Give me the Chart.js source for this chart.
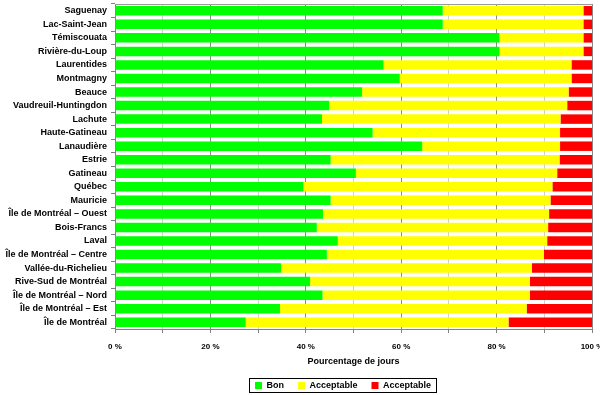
<!DOCTYPE html>
<html>
<head>
<meta charset="utf-8">
<script src="https://cdn.jsdelivr.net/npm/chart.js@4.4.1/dist/chart.umd.min.js"></script>
<style>
  html, body { margin: 0; padding: 0; background: #fff; }
  #wrap { width: 600px; height: 395px; position: relative; }
</style>
</head>
<body>
<div id="wrap"><canvas id="airChart"></canvas></div>
<script>
// ===== DATA =====
const regions = [
  "Saguenay", "Lac-Saint-Jean", "Témiscouata", "Rivière-du-Loup", "Laurentides",
  "Montmagny", "Beauce", "Vaudreuil-Huntingdon", "Lachute", "Haute-Gatineau",
  "Lanaudière", "Estrie", "Gatineau", "Québec", "Mauricie",
  "Île de Montréal – Ouest", "Bois-Francs", "Laval", "Île de Montréal – Centre",
  "Vallée-du-Richelieu", "Rive-Sud de Montréal", "Île de Montréal – Nord",
  "Île de Montréal – Est", "Île de Montréal"
];

// % de jours par catégorie
const bon = [68.7, 68.7, 80.6, 80.6, 56.3, 59.7, 51.8, 44.9, 43.4, 54.0,
             64.4, 45.2, 50.5, 39.5, 45.2, 43.6, 42.3, 46.7, 44.4,
             34.8, 40.9, 43.5, 34.6, 27.4];
const acceptable = [29.5, 29.5, 17.6, 17.6, 39.4, 36.0, 43.3, 49.9, 50.0, 39.3,
                    28.9, 48.0, 42.2, 52.2, 46.1, 47.4, 48.5, 43.9, 45.5,
                    52.6, 46.1, 43.5, 51.7, 55.1];
const mauvais = [1.8, 1.8, 1.8, 1.8, 4.3, 4.3, 4.9, 5.2, 6.6, 6.7,
                 6.7, 6.8, 7.3, 8.3, 8.7, 9.0, 9.2, 9.4, 10.1,
                 12.6, 13.0, 13.0, 13.7, 17.5];

const xTicks = [0, 10, 20, 30, 40, 50, 60, 70, 80, 90, 100];

// ===== PLUGIN: cadre haut + legende deplacee et encadree =====
const frames = {
  id: "frames",
  afterLayout(chart) {
    const lg = chart.legend;
    if (!lg) return;
    const dx = 47;
    const dy = 367 - lg.top;
    lg.left += dx; lg.right += dx;
    lg.top += dy; lg.bottom += dy;
  },
  afterDraw(chart) {
    const c = chart.ctx;
    const a = chart.chartArea;
    c.save();
    c.strokeStyle = "#9a9a9a";
    c.lineWidth = 1;
    c.beginPath();
    c.moveTo(a.left, a.top + 0.5);
    c.lineTo(a.right, a.top + 0.5);
    c.stroke();

    const boxes = chart.legend.legendHitBoxes;
    if (boxes && boxes.length) {
      const l = Math.min(...boxes.map(b => b.left)) - 6;
      const r = Math.max(...boxes.map(b => b.left + b.width)) + 5;
      const t = boxes[0].top - 3;
      const h = boxes[0].height + 5;
      c.strokeStyle = "#000";
      c.strokeRect(Math.round(l) + 0.5, Math.round(t) + 0.5, Math.round(r - l), Math.round(h));
    }
    c.restore();
  }
};

// ===== CHART =====
const ctx = document.getElementById("airChart").getContext("2d");

new Chart(ctx, {
  type: "bar",
  data: {
    labels: regions,
    datasets: [
      { label: "Bon", data: bon, backgroundColor: "#00ff00" },
      { label: "Acceptable", data: acceptable, backgroundColor: "#ffff00" },
      { label: "Acceptable", data: mauvais, backgroundColor: "#ff0000" }
    ]
  },
  options: {
    indexAxis: "y",
    responsive: true,
    maintainAspectRatio: false,
    animation: false,
    datasets: { bar: { categoryPercentage: 1, barPercentage: 0.7, borderWidth: 0 } },
    layout: { padding: { top: 4, right: 8, left: 0, bottom: -7 } },
    plugins: {
      tooltip: { enabled: false },
      legend: {
        position: "bottom",
        labels: {
          boxWidth: 7, boxHeight: 7, padding: 14, color: "#000",
          font: { family: "Liberation Sans, Arial", size: 9, weight: "bold" }
        }
      }
    },
    scales: {
      x: {
        stacked: true,
        min: 0, max: 100,
        afterBuildTicks(axis) { axis.ticks = xTicks.map(v => ({ value: v })); },
        afterFit(axis) { axis.height = 40; axis.paddingRight = 0; },
        ticks: {
          autoSkip: false, maxRotation: 0, padding: 9, color: "#000",
          font: { family: "Liberation Sans, Arial", size: 8, weight: "bold" },
          callback: v => (v % 20 === 0 ? v + " %" : "")
        },
        grid: {
          color: c => (c.tick && c.tick.value % 20 === 0 ? "#8a8a8a" : "#cfcfcf"),
          tickColor: "#808080",
          tickLength: 4
        },
        border: { color: "#808080" },
        title: {
          display: true, text: "Pourcentage de jours", color: "#000",
          padding: { top: 2, bottom: 2 },
          font: { family: "Liberation Sans, Arial", size: 9, weight: "bold" }
        }
      },
      y: {
        stacked: true,
        afterFit(axis) { axis.width = 115; axis.paddingTop = 0; axis.paddingBottom = 0; },
        ticks: {
          color: "#000", padding: 4, autoSkip: false,
          font: { family: "Liberation Sans, Arial", size: 9, weight: "bold" }
        },
        grid: {
          offset: true, drawOnChartArea: false,
          tickLength: 4, tickColor: "#808080"
        },
        border: { color: "#808080" }
      }
    }
  },
  plugins: [frames]
});
</script>
</body>
</html>
